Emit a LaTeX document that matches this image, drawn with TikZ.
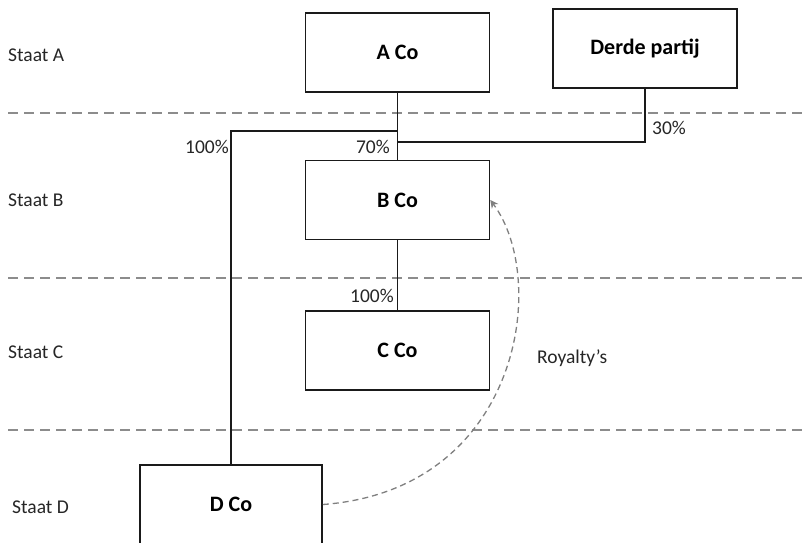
\documentclass[tikz,border=0pt]{standalone}
\usepackage{fontspec}
\setmainfont{Carlito}
\usetikzlibrary{arrows.meta}
\definecolor{ink}{HTML}{1A1A1A}
\definecolor{txt}{HTML}{262626}
\definecolor{sep}{HTML}{8C8C8C}
\tikzset{
  entity/.style={draw=ink, line width=1.6pt, fill=white, minimum width=184pt,
    minimum height=79pt, inner sep=0pt, font=\fontsize{22}{24}\selectfont\bfseries, text=black},
  link/.style={draw=ink, line width=1.6pt},
  border/.style={draw=sep, line width=1.2pt, dash pattern=on 10pt off 6pt},
  lbl/.style={font=\fontsize{19.5}{22}\selectfont, text=txt, inner sep=0pt},
  flow/.style={draw=gray, line width=1.3pt, dash pattern=on 6pt off 4pt,
    -{Stealth[length=8pt,width=8pt]}}
}
\begin{document}
\begin{tikzpicture}[x=1pt,y=-1pt]
\useasboundingbox[fill=white] (0,0) rectangle (804,542);

% borders between the states
\draw[border] (8,113) -- (804,113);
\draw[border] (8,278) -- (804,278);
\draw[border] (8,430) -- (804,430);

% state names
\node[lbl, anchor=west] (sa) at (8,55) {Staat A};
\node[lbl, anchor=west] (sb) at (8,200) {Staat B};
\node[lbl, anchor=west] (sc) at (8,352) {Staat C};
\node[lbl, anchor=west] (sd) at (12,507) {Staat D};

% entities
\node[entity] (aco) at (397.5,52.5) {A Co};
\node[entity] (derde) at (645,48.5) {Derde partij};
\node[entity] (bco) at (397.5,200) {B Co};
\node[entity] (cco) at (397.5,350.5) {C Co};
\node[entity, minimum width=182pt] (dco) at (231,504.5) {D Co};

% ownership lines
\coordinate (jd) at (398,131);
\coordinate (jt) at (398,142);
\draw[link] (aco.south) -- (bco.north);
\draw[link] (derde.south) |- (jt);
\draw[link] (dco.north) |- (jd);
\draw[link] (bco.south) -- (cco.north);

% percentages
\node[lbl, anchor=east] (p1) at (229,147) {100\%};
\node[lbl, anchor=east] (p2) at (390,147) {70\%};
\node[lbl, anchor=west] (p3) at (652,128) {30\%};
\node[lbl, anchor=east] (p4) at (394,296) {100\%};

% royalty flow
\draw[flow] (dco.east) .. controls (520,490) and (550,280) .. (bco.east);
\node[lbl, anchor=west] (roy) at (537,358) {Royalty’s};
\end{tikzpicture}
\end{document}
